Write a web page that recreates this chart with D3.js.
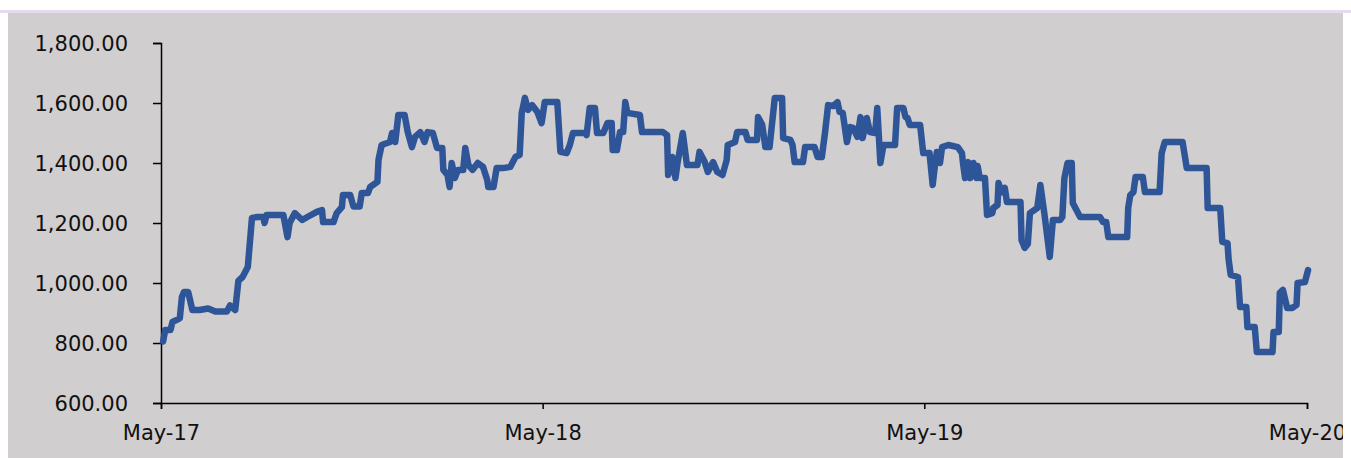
<!DOCTYPE html>
<html>
<head>
<meta charset="utf-8">
<script src="https://cdn.jsdelivr.net/npm/d3@7"></script>
<style>
body { margin: 0; background: #fff; }
.axis text { font-family: "DejaVu Sans", sans-serif; font-size: 21px; fill: #111; }
.axis path, .axis line { stroke: #000; stroke-width: 1.5px; }
.line { fill: none; stroke: #2E5597; stroke-width: 6.5px; stroke-linejoin: round; stroke-linecap: round; }
</style>
</head>
<body>
<svg id="chart" width="1351" height="458"></svg>
<script>
// days counted from 1 May 2017
var startDate = new Date(2017, 4, 1)
var dayOffsets = [
    2, 4, 9, 11, 15, 18, 20, 22, 26, 30,
    37, 45, 52, 63, 66, 71, 74, 78, 83, 87,
    92, 98, 99, 101, 117, 121, 123, 128, 135, 140,
    149, 154, 155, 165, 168, 173, 174, 181, 184, 190,
    192, 198, 200, 207, 208, 211, 219, 221, 224, 227,
    233, 236, 240, 243, 248, 252, 255, 260, 264, 269,
    270, 274, 276, 278, 281, 284, 289, 291, 294, 298,
    303, 308, 312, 313, 318, 321, 327, 334, 339, 343,
    345, 348, 351, 355, 360, 364, 367, 379, 382, 388,
    391, 394, 406, 407, 410, 415, 417, 423, 427, 431,
    432, 436, 439, 442, 444, 446, 458, 460, 480, 484,
    485, 489, 492, 494, 499, 503, 513, 515, 520, 523,
    528, 532, 537, 541, 542, 549, 551, 559, 561, 570,
    571, 575, 578, 582, 587, 594, 595, 602, 604, 606,
    614, 616, 625, 628, 632, 635, 638, 643, 647, 649,
    652, 656, 659, 662, 666, 669, 671, 675, 678, 683,
    685, 688, 691, 702, 704, 710, 712, 714, 716, 726,
    729, 735, 738, 740, 742, 745, 747, 753, 762, 766,
    767, 769, 772, 774, 777, 780, 781, 783, 788, 790,
    795, 796, 800, 801, 804, 807, 809, 822, 823, 826,
    829, 831, 838, 841, 845, 850, 853, 860, 862, 864,
    867, 871, 872, 879, 898, 901, 904, 906, 924, 925,
    927, 930, 932, 939, 941, 955, 957, 960, 977, 981,
    1000, 1001, 1013, 1015, 1020, 1021, 1023, 1030, 1032, 1038,
    1039, 1046, 1048, 1063, 1064, 1069, 1070, 1073, 1077, 1082,
    1086, 1087, 1094, 1097
]
var prices = [
    805, 843, 843, 870, 877, 883, 953, 970, 970, 910,
    910, 915, 905, 905, 925, 910, 1007, 1020, 1053, 1217,
    1220, 1220, 1200, 1227, 1227, 1153, 1200, 1233, 1210, 1220,
    1237, 1243, 1203, 1203, 1233, 1253, 1293, 1293, 1255, 1255,
    1300, 1300, 1320, 1337, 1410, 1460, 1470, 1500, 1470, 1560,
    1560, 1503, 1453, 1487, 1503, 1470, 1503, 1500, 1450, 1450,
    1377, 1360, 1320, 1400, 1350, 1377, 1377, 1450, 1393, 1377,
    1400, 1387, 1343, 1320, 1320, 1383, 1383, 1387, 1420, 1427,
    1567, 1617, 1577, 1593, 1570, 1533, 1603, 1603, 1437, 1433,
    1460, 1500, 1500, 1493, 1583, 1583, 1500, 1500, 1533, 1533,
    1443, 1443, 1503, 1503, 1603, 1567, 1560, 1503, 1503, 1493,
    1360, 1420, 1350, 1400, 1500, 1393, 1393, 1437, 1403, 1370,
    1403, 1370, 1360, 1410, 1460, 1470, 1503, 1503, 1477, 1477,
    1553, 1527, 1453, 1453, 1617, 1617, 1483, 1477, 1460, 1403,
    1403, 1453, 1453, 1420, 1420, 1500, 1593, 1590, 1603, 1570,
    1567, 1470, 1520, 1517, 1487, 1553, 1483, 1550, 1503, 1500,
    1583, 1400, 1460, 1460, 1583, 1583, 1553, 1550, 1527, 1527,
    1433, 1433, 1327, 1387, 1437, 1400, 1453, 1460, 1453, 1433,
    1400, 1350, 1403, 1350, 1400, 1350, 1390, 1350, 1350, 1227,
    1233, 1250, 1260, 1333, 1303, 1317, 1270, 1270, 1143, 1117,
    1130, 1233, 1250, 1327, 1227, 1087, 1210, 1210, 1220, 1350,
    1400, 1400, 1267, 1220, 1220, 1203, 1203, 1153, 1153, 1250,
    1293, 1303, 1353, 1353, 1303, 1303, 1433, 1470, 1470, 1383,
    1383, 1250, 1250, 1137, 1133, 1080, 1027, 1020, 920, 920,
    853, 853, 770, 770, 837, 837, 967, 977, 917, 917,
    927, 1000, 1003, 1043
]
var yTicks = [600, 800, 1000, 1200, 1400, 1600, 1800]
var xTicks = [new Date(2017, 4, 1), new Date(2018, 4, 1), new Date(2019, 4, 1), new Date(2020, 4, 1)]

var svg = d3.select("#chart")

// the snapshot is cut at the grey panel's right edge
svg.append("clipPath")
    .attr("id", "panelClip")
    .append("rect")
    .attr("x", 0).attr("y", 0)
    .attr("width", 1343).attr("height", 458)

svg.append("rect")
    .attr("x", 0).attr("y", 10)
    .attr("width", 1351).attr("height", 3)
    .attr("fill", "#E6D9F0")

var panel = svg.append("g")
    .attr("clip-path", "url(#panelClip)")

panel.append("rect")
    .attr("x", 8).attr("y", 13)
    .attr("width", 1335).attr("height", 445)
    .attr("fill", "#D0CECE")

var xScale = d3.scaleTime().domain([xTicks[0], xTicks[3]]).range([161, 1307])
var yScale = d3.scaleLinear().domain([600, 1800]).range([403, 43])

var data = dayOffsets.map(function (d, i) {
    return { date: d3.timeDay.offset(startDate, d), price: prices[i] }
})

var yAxis = d3.axisLeft(yScale)
    .tickValues(yTicks)
    .tickSize(8)
    .tickPadding(25)
    .tickFormat(d3.format(",.2f"))

var xAxis = d3.axisBottom(xScale)
    .tickValues(xTicks)
    .tickSize(6)
    .tickFormat(d3.timeFormat("%b-%y"))

panel.append("g")
    .attr("class", "axis y")
    .attr("transform", "translate(161,0)")
    .call(yAxis)
    .selectAll("text")
    .attr("dy", "0.36em")

panel.append("g")
    .attr("class", "axis x")
    .attr("transform", "translate(0,403)")
    .call(xAxis)
    .selectAll("text")
    .attr("y", 37)
    .attr("dy", 0)

var line = d3.line()
    .x(function (d) { return xScale(d.date) })
    .y(function (d) { return yScale(d.price) })

panel.append("path")
    .datum(data)
    .attr("class", "line")
    .attr("d", line)
</script>
</body>
</html>
